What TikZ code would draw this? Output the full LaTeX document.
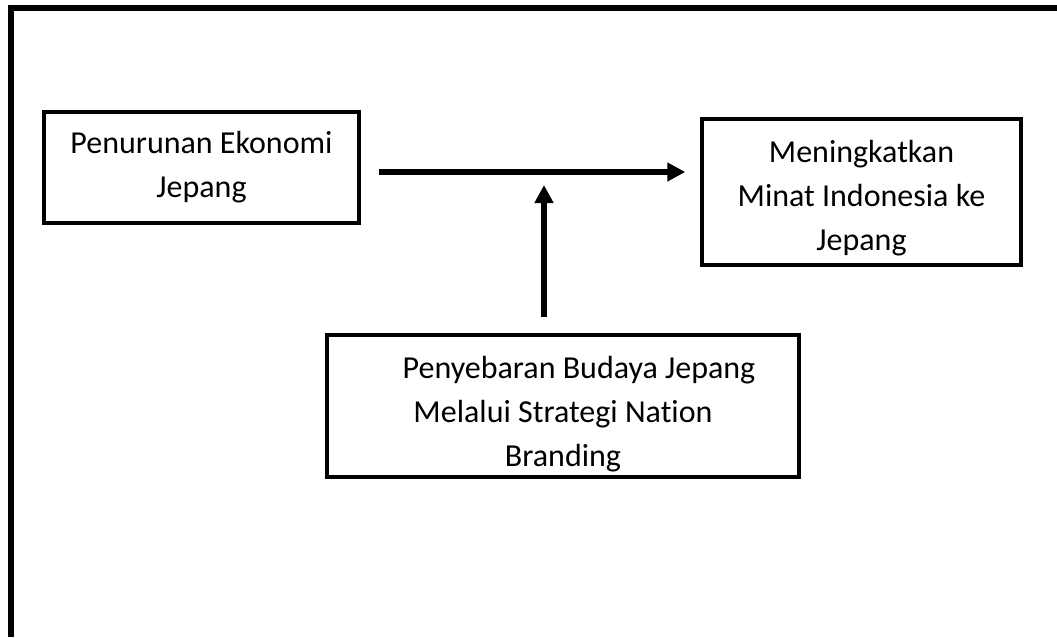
\documentclass[tikz,border=0pt]{standalone}
\usepackage{fontspec}
\setmainfont[Ligatures=NoCommon]{Carlito}
\usetikzlibrary{positioning, arrows.meta}
\tikzset{->,
         >={Triangle[length=18pt, width=18pt]},
         x=1pt, y=-1pt,
         factor/.style={draw, line width=3.5pt, align=center, inner sep=0pt,
                        font=\fontsize{32}{44}\selectfont},
         flow/.style={line width=6pt},
         }

\begin{document}
\begin{tikzpicture}
    \useasboundingbox (0,0) rectangle (1057,637);
    \draw[-, line width=6pt] (10.5,637) -- (10.5,8) -- (1057,8);

    \node[factor, minimum width=315pt, minimum height=111pt] (econ) at (201.5,167.5) {Penurunan Ekonomi\\Jepang};
    \node[factor, minimum width=319pt, minimum height=146pt] (interest) at (861.5,192) {\rule{0pt}{34pt}Meningkatkan\\Minat Indonesia ke\\Jepang};
    \node[factor, minimum width=472pt, minimum height=142pt] (culture) at (563,406) {\rule{0pt}{38pt}\hspace{32pt}Penyebaran Budaya Jepang\\Melalui Strategi Nation\\Branding};
    \coordinate (join) at (544,185);

    \draw[flow] ([shift={(18,4.5)}]econ.east) -- ([shift={(-15,-20)}]interest.west);
    \draw[flow] ([shift={(-19,-16)}]culture.north) -- (join);
\end{tikzpicture}
\end{document}
